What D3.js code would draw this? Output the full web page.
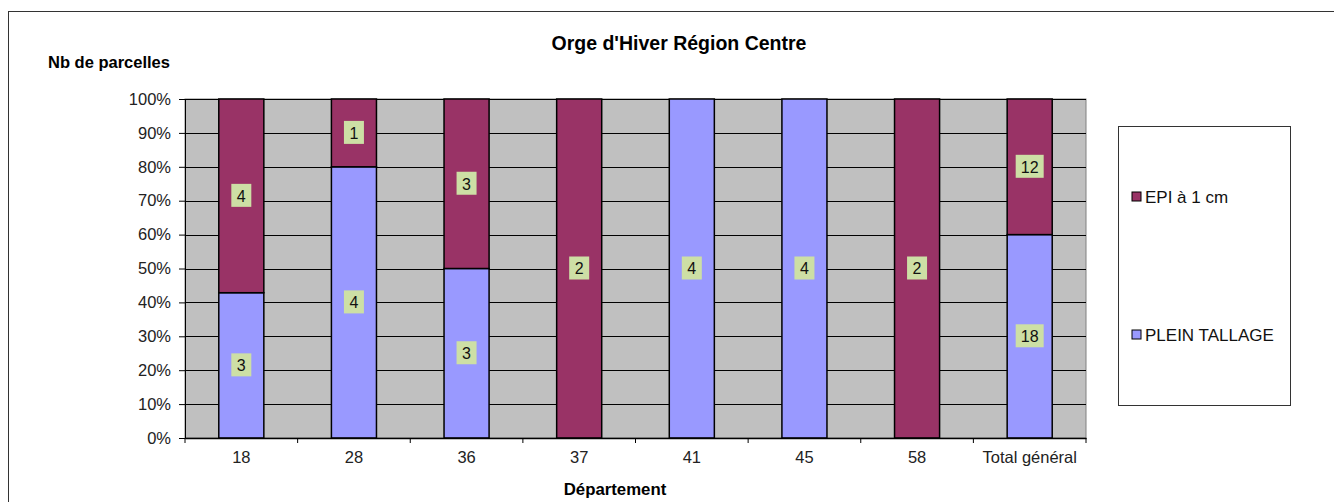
<!DOCTYPE html>
<html>
<head>
<meta charset="utf-8">
<script src="https://cdn.jsdelivr.net/npm/d3@7"></script>
<style>
  body { margin: 0; background: #fff; }
  svg { font-family: "Liberation Sans", Arial, sans-serif; }
</style>
</head>
<body>
<script>
const departements = ["18", "28", "36", "37", "41", "45", "58", "Total général"];
const pleinTallage = [3, 4, 3, 0, 4, 4, 0, 18];
const epi1cm = [4, 1, 3, 2, 0, 0, 2, 12];
const seriesNames = ["PLEIN TALLAGE", "EPI à 1 cm"];
const yTicks = [0, 0.1, 0.2, 0.3, 0.4, 0.5, 0.6, 0.7, 0.8, 0.9, 1];

const width = 1334, height = 502;
const plot = {left: 185, right: 1086, top: 99, bottom: 438};

const colors = d3.scaleOrdinal()
  .domain(seriesNames)
  .range(["#9999ff", "#993366"]);

const svg = d3.select("body").append("svg")
  .attr("width", width)
  .attr("height", height);

// outer chart border
svg.append("rect")
  .attr("x", 8.5).attr("y", 11.5)
  .attr("width", 1340).attr("height", 520)
  .attr("fill", "#fff")
  .attr("stroke", "#333");

const rows = departements.map((d, i) => ({
  dep: d,
  "PLEIN TALLAGE": pleinTallage[i],
  "EPI à 1 cm": epi1cm[i]
}));

const stacked = d3.stack()
  .keys(seriesNames)
  .offset(d3.stackOffsetExpand)(rows);

const x = d3.scaleBand()
  .domain(departements)
  .range([plot.left, plot.right])
  .paddingInner(0.6)
  .paddingOuter(0.3);

const y = d3.scaleLinear()
  .domain([0, 1])
  .range([plot.bottom, plot.top]);

// plot background
svg.append("rect")
  .attr("x", plot.left).attr("y", plot.top)
  .attr("width", plot.right - plot.left)
  .attr("height", plot.bottom - plot.top)
  .attr("fill", "#c0c0c0")
  .attr("stroke", "#808080");

// gridlines
svg.append("g")
  .selectAll("line")
  .data(yTicks.slice(1))
  .join("line")
  .attr("x1", plot.left).attr("x2", plot.right)
  .attr("y1", d => Math.round(y(d)) + 0.5)
  .attr("y2", d => Math.round(y(d)) + 0.5)
  .attr("stroke", "#000")
  .attr("stroke-width", 1);

// bars
const layer = svg.append("g")
  .selectAll("g")
  .data(stacked)
  .join("g")
  .attr("fill", d => colors(d.key));

layer.selectAll("rect")
  .data(d => d.map((v, i) => ({v, dep: departements[i], key: d.key})))
  .join("rect")
  .attr("x", d => x(d.dep))
  .attr("y", d => y(d.v[1]))
  .attr("width", x.bandwidth())
  .attr("height", d => y(d.v[0]) - y(d.v[1]))
  .attr("stroke", "#000")
  .attr("stroke-width", 1.5);

// data labels
const labels = [];
stacked.forEach(s => s.forEach((v, i) => {
  const n = s.key === "PLEIN TALLAGE" ? pleinTallage[i] : epi1cm[i];
  if (n > 0) labels.push({n, dep: departements[i], mid: (v[0] + v[1]) / 2});
}));

const lab = svg.append("g")
  .selectAll("g")
  .data(labels)
  .join("g")
  .attr("transform", d => `translate(${x(d.dep) + x.bandwidth() / 2},${y(d.mid)})`);

lab.append("rect")
  .attr("x", d => String(d.n).length > 1 ? -14 : -10)
  .attr("y", -12)
  .attr("width", d => String(d.n).length > 1 ? 28 : 20)
  .attr("height", 23)
  .attr("fill", "#cddfa5");

lab.append("text")
  .attr("text-anchor", "middle")
  .attr("dy", "0.36em")
  .attr("font-size", 16)
  .attr("fill", "#111")
  .text(d => d.n);

// y axis
const yAxis = svg.append("g")
  .attr("transform", `translate(${plot.left},0)`)
  .call(d3.axisLeft(y).tickValues(yTicks).tickFormat(d3.format(".0%")).tickSize(6).tickPadding(8));
yAxis.select(".domain").attr("stroke", "#000");
yAxis.selectAll("text").attr("font-size", 16.5).attr("fill", "#222").attr("font-family", "Liberation Sans, Arial, sans-serif");

// x axis
const xAxis = svg.append("g")
  .attr("transform", `translate(0,${plot.bottom})`)
  .call(d3.axisBottom(x).tickSize(0).tickPadding(13));
xAxis.select(".domain").attr("stroke", "#000").attr("stroke-width", 1.5);
xAxis.selectAll("text").attr("font-size", 16.5).attr("fill", "#222").attr("font-family", "Liberation Sans, Arial, sans-serif");

svg.append("g")
  .selectAll("line")
  .data(d3.range(departements.length + 1))
  .join("line")
  .attr("x1", i => plot.left + i * (plot.right - plot.left) / departements.length)
  .attr("x2", i => plot.left + i * (plot.right - plot.left) / departements.length)
  .attr("y1", plot.bottom).attr("y2", plot.bottom + 5)
  .attr("stroke", "#000");

// titles
svg.append("text")
  .attr("x", 679).attr("y", 50)
  .attr("text-anchor", "middle")
  .attr("font-size", 19.5).attr("font-weight", "bold")
  .text("Orge d'Hiver Région Centre");

svg.append("text")
  .attr("x", 48).attr("y", 68)
  .attr("font-size", 16.5).attr("font-weight", "bold")
  .text("Nb de parcelles");

svg.append("text")
  .attr("x", 615).attr("y", 495)
  .attr("text-anchor", "middle")
  .attr("font-size", 16.8).attr("font-weight", "bold")
  .text("Département");

// legend
const legend = svg.append("g");
legend.append("rect")
  .attr("x", 1118.5).attr("y", 126.5)
  .attr("width", 172).attr("height", 279)
  .attr("fill", "#fff").attr("stroke", "#333");

const legendItems = [
  {name: "EPI à 1 cm", y: 197},
  {name: "PLEIN TALLAGE", y: 335}
];
const li = legend.selectAll(".legend-item")
  .data(legendItems)
  .join("g")
  .attr("class", "legend-item")
  .attr("transform", d => `translate(1132,${d.y})`);
li.append("rect")
  .attr("x", 0).attr("y", -5)
  .attr("width", 9).attr("height", 9)
  .attr("fill", d => colors(d.name))
  .attr("stroke", "#000");
li.append("text")
  .attr("x", 13).attr("dy", "0.35em")
  .attr("font-size", 17)
  .attr("fill", "#111")
  .text(d => d.name);
</script>
</body>
</html>
